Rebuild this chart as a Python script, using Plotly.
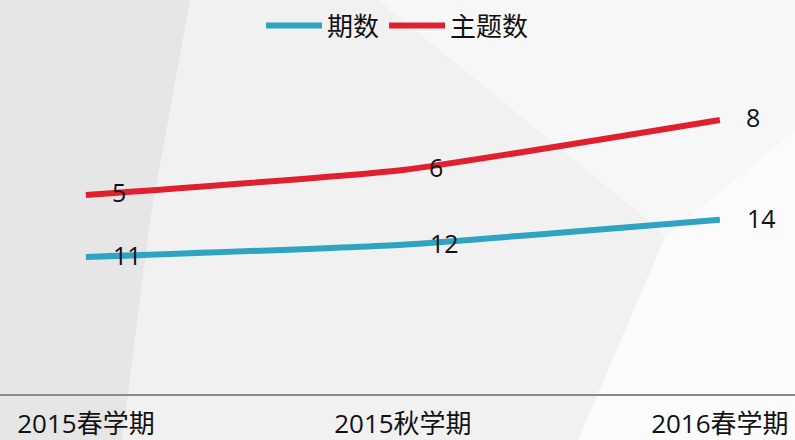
import plotly.graph_objects as go

categories = ["2015春学期", "2015秋学期", "2016春学期"]
qishu = [11, 12, 14]
zhuti = [5, 6, 8]

BLUE = "#2ea3c2"
RED = "#e0202f"
FONT = "Open Sans, Noto Sans CJK SC, sans-serif"

W, H = 795, 440
T, B = 48, 46
PH = H - T - B


def px2paper(pts):
    out = []
    for (x, y) in pts:
        out.append((x / W, (H - B - y) / PH))
    return out


def poly(pts, color):
    p = px2paper(pts)
    path = "M " + " L ".join(f"{a:.4f} {b:.4f}" for a, b in p) + " Z"
    return dict(type="path", xref="paper", yref="paper", layer="below",
                path=path, fillcolor=color, line=dict(width=0))


fig = go.Figure()
fig.add_trace(go.Scatter(x=categories, y=qishu, name="期数", mode="lines",
                         line=dict(color=BLUE, width=6, shape="spline", smoothing=0.45),
                         yaxis="y"))
fig.add_trace(go.Scatter(x=categories, y=zhuti, name="主题数", mode="lines",
                         line=dict(color=RED, width=6, shape="spline", smoothing=0.45),
                         yaxis="y2"))

annotations = []
for c, v in zip(categories, qishu):
    annotations.append(dict(x=c, y=v, xref="x", yref="y", text=str(v), showarrow=False,
                            xanchor="left", yanchor="middle", xshift=25, yshift=2,
                            font=dict(size=25, color="#111", family=FONT)))
for c, v in zip(categories, zhuti):
    annotations.append(dict(x=c, y=v, xref="x", yref="y2", text=str(v), showarrow=False,
                            xanchor="left", yanchor="middle", xshift=24, yshift=3,
                            font=dict(size=25, color="#111", family=FONT)))

shapes = [
    poly([(0, 0), (190, 0), (150, 220), (122, 440), (0, 440)], "#e6e6e6"),
    poly([(378, 0), (795, 0), (795, 130), (665, 237), (648, 220)], "#f7f7f7"),
    poly([(665, 237), (795, 130), (795, 440), (578, 440)], "#fbfbfb"),
]

fig.update_layout(
    width=W, height=H,
    margin=dict(l=0, r=0, t=T, b=B, autoexpand=False),
    paper_bgcolor="#f1f1f1",
    plot_bgcolor="rgba(0,0,0,0)",
    font=dict(family=FONT, size=25, color="#111"),
    showlegend=True,
    legend=dict(orientation="h", x=0.5, xanchor="center", y=0.995, yanchor="top",
                yref="container", font=dict(size=26, family=FONT), bgcolor="rgba(0,0,0,0)",
                itemwidth=56, traceorder="normal"),
    xaxis=dict(type="category", range=[-0.271, 2.237], showgrid=False, zeroline=False,
               showline=True, linecolor="#8a8a8a", linewidth=2, ticks="", automargin=False,
               ticklabelstandoff=6, tickfont=dict(size=26, family=FONT, color="#111")),
    yaxis=dict(range=[0, 27.8], visible=False, showgrid=False),
    yaxis2=dict(range=[-2.96, 10.88], visible=False, showgrid=False, overlaying="y"),
    annotations=annotations,
    shapes=shapes,
)

fig.write_html("out.html", config={"displayModeBar": False},
               post_script="document.body.style.margin='0';document.body.style.overflow='hidden';")
